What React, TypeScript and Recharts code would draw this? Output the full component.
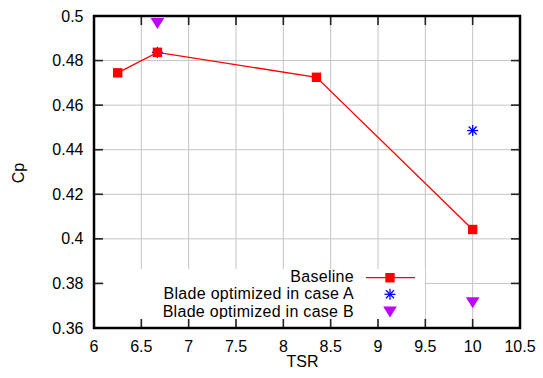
import { ComposedChart, Line, Scatter, XAxis, YAxis, CartesianGrid, Legend } from "recharts";

const tsrBaseline = [6.25, 6.67, 8.35, 10];
const cpBaseline = [0.4745, 0.4837, 0.4725, 0.4042];
const tsrCaseA = [6.67, 10];
const cpCaseA = [0.4837, 0.4486];
const tsrCaseB = [6.67, 10];
const cpCaseB = [0.4971, 0.3718];
const xTicks = [6, 6.5, 7, 7.5, 8, 8.5, 9, 9.5, 10, 10.5];
const yTicks = [0.36, 0.38, 0.4, 0.42, 0.44, 0.46, 0.48, 0.5];
const seriesNames = ["Baseline", "Blade optimized in case A", "Blade optimized in case B"];

const toPoints = (xs: number[], ys: number[]) => xs.map((x, i) => ({ x, y: ys[i] }));
const baseline = toPoints(tsrBaseline, cpBaseline);
const caseA = toPoints(tsrCaseA, cpCaseA);
const caseB = toPoints(tsrCaseB, cpCaseB);

const RED = "#ff0000";
const BLUE = "#0000ff";
const VIOLET = "#c000ff";
const GRID = "#c4c4c4";
const FONT = "'Liberation Sans', Arial, sans-serif";

// plot box (gnuplot style: frame on all sides, ticks pointing inwards)
const LEFT = 94;
const RIGHT = 520;
const TOP = 16;
const BOTTOM = 328;
const TICK = 9;

const Square = ({ cx, cy }: any) => <rect x={cx - 4.7} y={cy - 4.7} width={9.4} height={9.4} fill={RED} />;

const Star = ({ cx, cy }: any) => (
  <g stroke={BLUE} strokeWidth={1.3}>
    <line x1={cx - 5.5} y1={cy} x2={cx + 5.5} y2={cy} />
    <line x1={cx} y1={cy - 5.5} x2={cx} y2={cy + 5.5} />
    <line x1={cx - 4} y1={cy - 4} x2={cx + 4} y2={cy + 4} />
    <line x1={cx - 4} y1={cy + 4} x2={cx + 4} y2={cy - 4} />
  </g>
);

const TriangleDown = ({ cx, cy }: any) => (
  <path d={`M${cx - 6.8},${cy - 4.5} L${cx + 6.8},${cy - 4.5} L${cx},${cy + 6.5} Z`} fill={VIOLET} />
);

// x tick: inward marks at bottom and top, label
const XTick = ({ x, payload }: any) => (
  <g>
    <line x1={x} y1={BOTTOM} x2={x} y2={BOTTOM - TICK} stroke="#222" strokeWidth={1.6} />
    <line x1={x} y1={TOP} x2={x} y2={TOP + TICK} stroke="#222" strokeWidth={1.6} />
    <text x={x} y={352} textAnchor="middle" fontSize={16} fontFamily={FONT} fill="#000">
      {payload.value}
    </text>
  </g>
);

// y tick: inward marks at left and right, label; the last one also draws the frame
const YTick = ({ y, payload, index }: any) => (
  <g>
    <line x1={LEFT} y1={y} x2={LEFT + TICK} y2={y} stroke="#222" strokeWidth={1.6} />
    <line x1={RIGHT} y1={y} x2={RIGHT - TICK} y2={y} stroke="#222" strokeWidth={1.6} />
    <text x={83.5} y={y + 5.6} textAnchor="end" fontSize={16} fontFamily={FONT} fill="#000">
      {payload.value}
    </text>
    {index === yTicks.length - 1 && (
      <rect x={LEFT} y={TOP} width={RIGHT - LEFT} height={BOTTOM - TOP} fill="none" stroke="#000" strokeWidth={2.5} />
    )}
  </g>
);

function KeyBox() {
  const rows = [0, 17.3, 34.6];
  return (
    <svg width={321} height={50} style={{ display: "block", background: "#fff" }}>
      {seriesNames.map((name, i) => (
        <text
          key={name}
          x={250}
          y={13 + rows[i]}
          textAnchor="end"
          fontSize={16}
          fontFamily={FONT}
          letterSpacing={0.29}
          fill="#000"
        >
          {name}
        </text>
      ))}
      <line x1={262} y1={8.7} x2={311} y2={8.7} stroke={RED} strokeWidth={1.3} />
      <Square cx={286} cy={8.7} />
      <Star cx={286} cy={25.3} />
      <TriangleDown cx={286} cy={42} />
    </svg>
  );
}

export default function App() {
  return (
    <div style={{ position: "absolute", left: 0, top: 0 }}>
      <ComposedChart width={543} height={378} margin={{ top: TOP, right: 543 - RIGHT, bottom: 0, left: 0 }}>
        <CartesianGrid
          stroke={GRID}
          strokeWidth={1}
          verticalValues={xTicks.slice(1, -1)}
          horizontalValues={yTicks.slice(1, -1)}
        />
        <XAxis
          dataKey="x"
          type="number"
          domain={[6, 10.5]}
          ticks={xTicks}
          interval={0}
          height={378 - BOTTOM}
          tick={<XTick />}
          axisLine={false}
          tickLine={false}
          label={() => (
            <text x={302.5} y={367} textAnchor="middle" fontSize={16} fontFamily={FONT} fill="#000">
              TSR
            </text>
          )}
        />
        <YAxis
          type="number"
          domain={[0.36, 0.5]}
          ticks={yTicks}
          interval={0}
          width={LEFT}
          tick={<YTick />}
          axisLine={false}
          tickLine={false}
          label={() => (
            <text
              x={23.5}
              y={173}
              textAnchor="middle"
              fontSize={16}
              fontFamily={FONT}
              fill="#000"
              transform="rotate(-90, 23.5, 173)"
            >
              Cp
            </text>
          )}
        />
        <Legend
          layout="horizontal"
          verticalAlign="middle"
          align="center"
          wrapperStyle={{ position: "absolute", left: 104, top: 269, width: 321, height: 50 }}
          content={() => <KeyBox />}
        />
        <Line
          data={baseline}
          dataKey="y"
          name={seriesNames[0]}
          type="linear"
          stroke={RED}
          strokeWidth={1.3}
          dot={(p: any) => <Square key={`sq-${p.index}`} cx={p.cx} cy={p.cy} />}
          activeDot={false}
          isAnimationActive={false}
        />
        <Scatter data={caseA} dataKey="y" name={seriesNames[1]} shape={Star} isAnimationActive={false} />
        <Scatter data={caseB} dataKey="y" name={seriesNames[2]} shape={TriangleDown} isAnimationActive={false} />
      </ComposedChart>
    </div>
  );
}
